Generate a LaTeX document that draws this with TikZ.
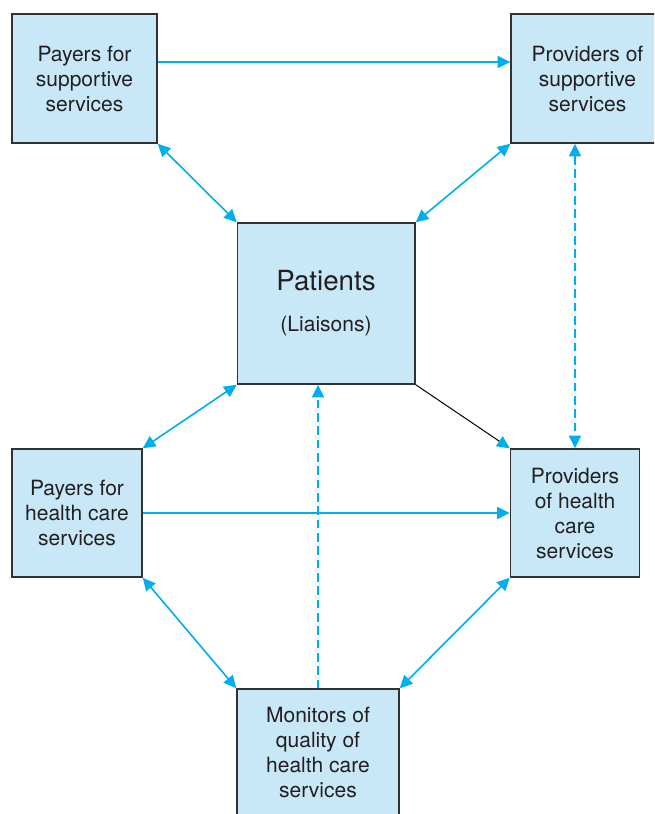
\documentclass[tikz,border=0pt]{standalone}
\usepackage{fontspec}
\setmainfont{TeX Gyre Heros}
\usetikzlibrary{arrows.meta,calc}
\definecolor{boxfill}{RGB}{200,232,248}
\definecolor{arrowblue}{RGB}{0,174,239}
\definecolor{boxline}{RGB}{50,50,50}
\definecolor{textcol}{RGB}{35,31,32}
\begin{document}
\begin{tikzpicture}[x=0.75pt,y=-0.75pt,
  >={Triangle[length=9.5pt,width=9pt]},
  box/.style={draw=boxline, line width=1.1pt, fill=boxfill, text=textcol, align=center, inner sep=0pt,
    font=\fontsize{15.75pt}{18.75pt}\selectfont},
  plain/.style={text=textcol, inner sep=0pt, anchor=base},
  link/.style={draw=arrowblue, line width=1.2pt},
  dashlink/.style={link, dash pattern=on 6.5pt off 3.5pt}]
\clip (0,0) rectangle (654,814);
\useasboundingbox (0,0) rectangle (654,814);
% boxes
\node[box, minimum width=108.75pt, minimum height=96.75pt] (pays) at (84.5,78.5) {Payers for\\supportive\\services};
\node[box, minimum width=114.75pt, minimum height=96.75pt] (provs) at (587.5,78.5) {Providers of\\supportive\\services};
\node[box, minimum width=133.1pt, minimum height=120.75pt] (pat) at (326.25,303.5) {};
\node[plain, font=\fontsize{20.8pt}{25pt}\selectfont] (patt) at (326,290) {Patients};
\node[plain, font=\fontsize{15.75pt}{18.75pt}\selectfont] (patl) at (326,331) {(Liaisons)};
\node[box, minimum width=97.5pt, minimum height=96pt] (payh) at (77,513) {Payers for\\health care\\services};
\node[box, minimum width=96.75pt, minimum height=96pt] (provh) at (575,513) {Providers\\of health\\care\\services};
\node[box, minimum width=121.5pt, minimum height=95.25pt] (mon) at (318,752.5) {Monitors of\\quality of\\health care\\services};
% connectors
\draw[link, ->] ([yshift=12.4pt]pays.east) -- ([yshift=12.4pt]provs.west);
\draw[link, <->] (pays.south east) -- (pat.north west);
\draw[link, <->] (provs.south west) -- (pat.north east);
\draw[dashlink, <->] (provs.south -| provh.north) -- (provh.north);
\draw[line width=0.75pt, draw=black, -{Triangle[length=9.5pt,width=9pt,color=arrowblue]}] (pat.south east) -- (provh.north west);
\draw[link, <->] (pat.south west) -- (payh.north east);
\draw[link, ->] (payh.east) -- (provh.west);
\draw[dashlink, ->] (mon.north) -- (mon.north |- pat.south);
\draw[link, <->] (payh.south east) -- (mon.north west);
\draw[link, <->] (provh.south west) -- (mon.north east);
\end{tikzpicture}
\end{document}
